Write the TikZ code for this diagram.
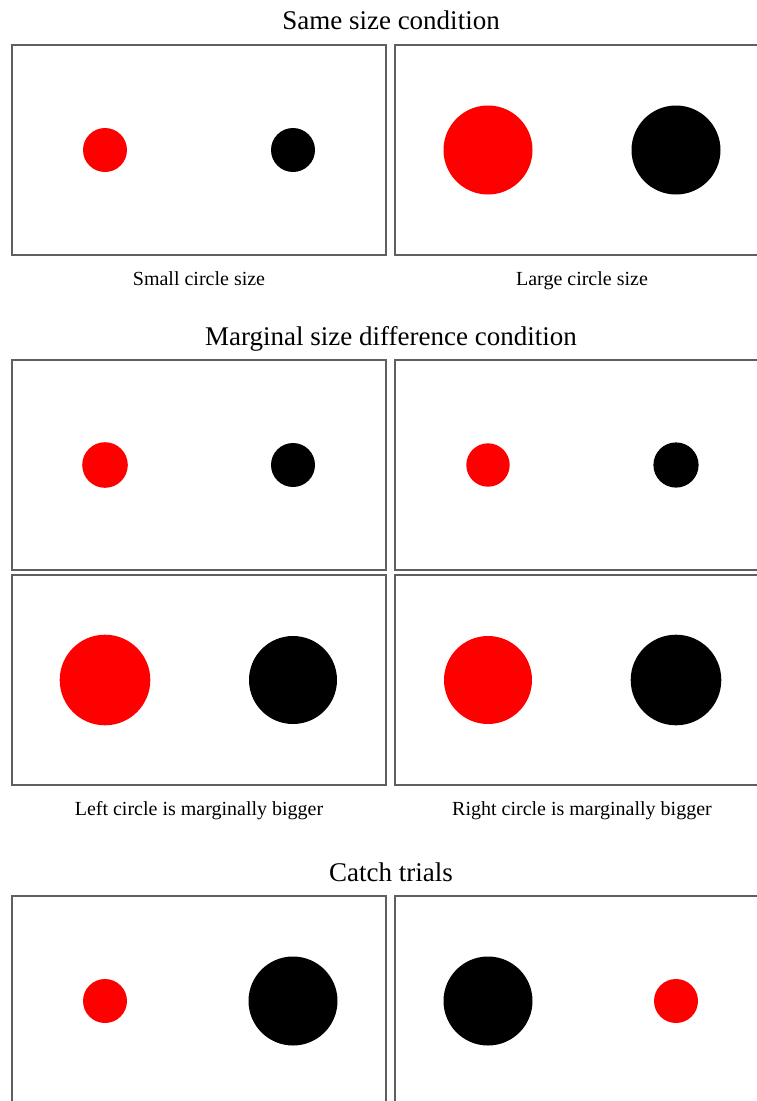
\documentclass[tikz,border=0pt]{standalone}
\usepackage{fontspec}
\setmainfont{Liberation Serif}
\usetikzlibrary{math}
\definecolor{myred}{RGB}{255,0,0}
\definecolor{framegray}{RGB}{95,95,95}

\begin{document}
\begin{tikzpicture}[x=1pt,y=-1pt,
  frame/.style={draw=framegray,line width=1.1pt},
  title/.style={font=\fontsize{27}{30}\selectfont,text height=0.7em,text depth=0.22em},
  caption/.style={font=\fontsize{20}{23}\selectfont,text height=0.7em,text depth=0.22em}]
\tikzmath{
\w=374; \h=210;
\xa=12; \xb=395;
\cx=93; \dx=281; \cy=105;
\rs=22; \rl=44.5;
}
\useasboundingbox (0,0) rectangle (757,1101);
\clip (0,0) rectangle (757,1101);

%%%%%%%%%% same size
\node[title] (sametitle) at (391,27) {Same size condition};

\begin{scope}[shift={(\xa,45)}]
\draw[frame] (0,0) rectangle (\w,\h);
\fill[myred] (\cx,\cy) circle (\rs);
\fill (\dx,\cy) circle (\rs);
\end{scope}
\node[caption] (smallcap) at (\xa+\w/2,283) {Small circle size};

\begin{scope}[shift={(\xb,45)}]
\draw[frame] (0,0) rectangle (\w,\h);
\fill[myred] (\cx,\cy) circle (\rl);
\fill (\dx,\cy) circle (\rl);
\end{scope}
\node[caption] (largecap) at (\xb+\w/2,283) {Large circle size};

%%%%%%%%%% marginal difference
\node[title] (margtitle) at (391,343) {Marginal size difference condition};

\begin{scope}[shift={(\xa,360)}]
\draw[frame] (0,0) rectangle (\w,\h);
\fill[myred] (\cx,\cy) circle (\rs+0.8);
\fill (\dx,\cy) circle (\rs);
\end{scope}

\begin{scope}[shift={(\xb,360)}]
\draw[frame] (0,0) rectangle (\w,\h);
\fill[myred] (\cx,\cy) circle (\rs-0.3);
\fill (\dx,\cy) circle (\rs+0.6);
\end{scope}

\begin{scope}[shift={(\xa,575)}]
\draw[frame] (0,0) rectangle (\w,\h);
\fill[myred] (\cx,\cy) circle (\rl+0.8);
\fill (\dx,\cy) circle (\rl-0.5);
\end{scope}
\node[caption] (leftcap) at (\xa+\w/2,813) {Left circle is marginally bigger};

\begin{scope}[shift={(\xb,575)}]
\draw[frame] (0,0) rectangle (\w,\h);
\fill[myred] (\cx,\cy) circle (\rl-0.5);
\fill (\dx,\cy) circle (\rl+0.8);
\end{scope}
\node[caption] (rightcap) at (\xb+\w/2,813) {Right circle is marginally bigger};

%%%%%%%%%% catch trials
\node[title] (catchtitle) at (391,879) {Catch trials};

\begin{scope}[shift={(\xa,896)}]
\draw[frame] (0,0) rectangle (\w,\h);
\fill[myred] (\cx,\cy) circle (\rs);
\fill (\dx,\cy) circle (\rl);
\end{scope}

\begin{scope}[shift={(\xb,896)}]
\draw[frame] (0,0) rectangle (\w,\h);
\fill (\cx,\cy) circle (\rl);
\fill[myred] (\dx,\cy) circle (\rs);
\end{scope}

\end{tikzpicture}
\end{document}
